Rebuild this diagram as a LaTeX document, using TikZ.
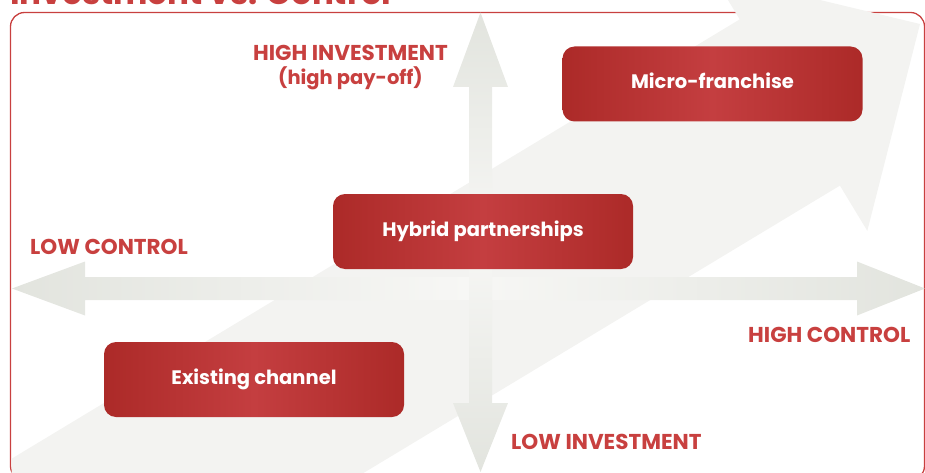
\documentclass[tikz,border=0pt]{standalone}
\usepackage{fontspec}
\setmainfont{Poppins}
\usetikzlibrary{calc}
\definecolor{brandred}{HTML}{C8403F}
\definecolor{boxedge}{HTML}{AC2A28}
\definecolor{boxmid}{HTML}{C43E40}
\definecolor{diagfill}{HTML}{F3F3F1}
\definecolor{axisend}{HTML}{E2E4DE}
\definecolor{axismid}{HTML}{F7F7F5}
\tikzset{
  framebox/.style={draw=brandred, line width=1.3pt, rounded corners=14pt},
  diagarrow/.style={fill=diagfill},
  redbox/.style={rounded corners=12pt, minimum width=300pt, minimum height=75pt,
    left color=boxedge, right color=boxedge, middle color=boxmid,
    text=white, font=\fontsize{19.5}{22}\selectfont\bfseries, inner sep=0pt,
    text height=15pt, text depth=6pt},
  axislabel/.style={text=brandred, font=\fontsize{21.5}{23}\selectfont\bfseries, inner sep=0pt},
  titletext/.style={text=brandred, font=\fontsize{32.5}{34}\selectfont\bfseries, inner sep=0pt}
}
\begin{document}
\begin{tikzpicture}[x=1pt,y=-1pt]
\useasboundingbox (0,0) rectangle (925,473);
% title (cut off at top)
\node[titletext, anchor=base west] (title) at (10,4.5) {Investment vs. Control};
% frame
\draw[framebox] (10.5,12.5) rectangle (924.5,480);
% diagonal big arrow
\begin{scope}
\clip (11.6,-60) rectangle (1000,520);
\fill[diagarrow] (-202,587.6) -- (739.7,19.4) -- (712.3,-25.9) -- (920,24)
  -- (867.3,230.9) -- (839.9,185.6) -- (-102,753.8) -- cycle;
\end{scope}
% horizontal double arrow
\shade[left color=axisend, right color=axisend, middle color=axismid]
  (12,288.5) -- (85,261.5) -- (85,277) -- (857,277) -- (857,261.5) -- (925,288.5)
  -- (857,315.5) -- (857,300) -- (85,300) -- (85,315.5) -- cycle;
% vertical double arrow
\shade[top color=axisend, bottom color=axisend, middle color=axismid]
  (480.5,12.5) -- (508,87) -- (492,87) -- (492,403) -- (508,403) -- (480.5,472)
  -- (453,403) -- (469,403) -- (469,87) -- (453,87) -- cycle;
% boxes
\node[redbox] (micro) at (712.5,84) {Micro-franchise};
\node[redbox] (hybrid) at (483,231.5) {Hybrid partnerships};
\node[redbox] (exist) at (254,379.5) {Existing channel};
% axis labels
\node[axislabel, align=center] (highinv) at (350.5,68) {HIGH INVESTMENT\\[1pt]\fontsize{19.5}{23}\selectfont(high pay-off)};
\node[axislabel, anchor=base west] (lowctrl) at (30,254) {LOW CONTROL};
\node[axislabel, anchor=base west] (highctrl) at (748,342) {HIGH CONTROL};
\node[axislabel, anchor=base west] (lowinv) at (511,449) {LOW INVESTMENT};
\end{tikzpicture}
\end{document}
